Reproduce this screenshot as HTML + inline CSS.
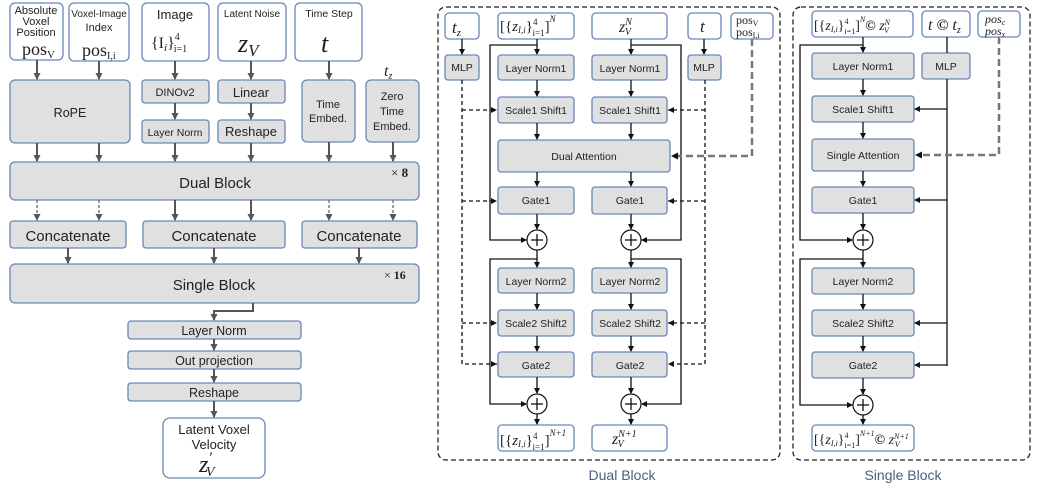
<!DOCTYPE html>
<html><head><meta charset="utf-8"><style>
html,body{margin:0;padding:0;background:#fff;}
svg{display:block;}
text{font-family:"Liberation Sans",sans-serif;fill:#222;}
.m{font-family:"Liberation Serif",serif;font-style:italic;}
.r{font-family:"Liberation Serif",serif;}
</style></head><body>
<svg width="1051" height="490" viewBox="0 0 1051 490" xmlns="http://www.w3.org/2000/svg">
<defs>
<marker id="ag" markerWidth="7" markerHeight="7" refX="6" refY="3.5" orient="auto" markerUnits="userSpaceOnUse"><path d="M0,0 L7,3.5 L0,7 z" fill="#555"/></marker>
<marker id="ab" markerWidth="6" markerHeight="6" refX="5" refY="3" orient="auto" markerUnits="userSpaceOnUse"><path d="M0,0 L6,3 L0,6 z" fill="#111"/></marker>
</defs>
<g stroke="#6a86b8" stroke-width="1.3">
<rect x="10" y="3" width="53" height="57" rx="5" fill="#fff"/>
<rect x="69" y="3" width="60" height="58" rx="5" fill="#fff"/>
<rect x="142" y="3" width="67" height="58" rx="5" fill="#fff"/>
<rect x="218" y="3" width="68" height="58" rx="5" fill="#fff"/>
<rect x="295" y="3" width="67" height="58" rx="5" fill="#fff"/>
<rect x="10" y="80" width="120" height="63" rx="5" fill="#e0e0e0"/>
<rect x="142" y="80" width="67" height="23" rx="3" fill="#e0e0e0"/>
<rect x="142" y="120" width="67" height="23" rx="3" fill="#e0e0e0"/>
<rect x="218" y="80" width="67" height="23" rx="3" fill="#e0e0e0"/>
<rect x="218" y="120" width="67" height="23" rx="3" fill="#e0e0e0"/>
<rect x="302" y="80" width="53" height="62" rx="5" fill="#e0e0e0"/>
<rect x="366" y="80" width="53" height="62" rx="5" fill="#e0e0e0"/>
<rect x="10" y="162" width="409" height="38" rx="5" fill="#e0e0e0"/>
<rect x="10" y="221" width="116" height="27" rx="3" fill="#e0e0e0"/>
<rect x="143" y="221" width="142" height="27" rx="3" fill="#e0e0e0"/>
<rect x="302" y="221" width="115" height="27" rx="3" fill="#e0e0e0"/>
<rect x="10" y="264" width="409" height="39" rx="5" fill="#e0e0e0"/>
<rect x="128" y="321" width="173" height="18" rx="3" fill="#e0e0e0"/>
<rect x="128" y="351" width="173" height="18" rx="3" fill="#e0e0e0"/>
<rect x="128" y="383" width="173" height="18" rx="3" fill="#e0e0e0"/>
<rect x="163" y="418" width="102" height="60" rx="7" fill="#fff"/>
</g>
<g stroke="#555" stroke-width="2" marker-end="url(#ag)" fill="none">
<line x1="37" y1="60" x2="37" y2="79"/><line x1="99" y1="61" x2="99" y2="79"/>
<line x1="175" y1="61" x2="175" y2="79"/><line x1="251" y1="61" x2="251" y2="79"/>
<line x1="329" y1="61" x2="329" y2="79"/>
<line x1="175" y1="103" x2="175" y2="119"/><line x1="251" y1="103" x2="251" y2="119"/>
<line x1="37" y1="143" x2="37" y2="161"/><line x1="99" y1="143" x2="99" y2="161"/>
<line x1="175" y1="143" x2="175" y2="161"/><line x1="251" y1="143" x2="251" y2="161"/>
<line x1="329" y1="142" x2="329" y2="161"/><line x1="393" y1="142" x2="393" y2="161"/>
<line x1="175" y1="200" x2="175" y2="220"/><line x1="251" y1="200" x2="251" y2="220"/>
<line x1="68" y1="248" x2="68" y2="263"/><line x1="214" y1="248" x2="214" y2="263"/><line x1="359" y1="248" x2="359" y2="263"/>
<polyline points="253,303 253,311 214,311 214,320"/>
<line x1="214" y1="339" x2="214" y2="350"/><line x1="214" y1="369" x2="214" y2="382"/><line x1="214" y1="401" x2="214" y2="417"/>
</g>
<g stroke="#666" stroke-width="1.3" stroke-dasharray="3,2" marker-end="url(#ag)">
<line x1="37" y1="200" x2="37" y2="220"/><line x1="99" y1="200" x2="99" y2="220"/>
<line x1="329" y1="200" x2="329" y2="220"/><line x1="393" y1="200" x2="393" y2="220"/>
</g>
<g font-size="11" text-anchor="middle">
<text x="36" y="14">Absolute</text><text x="36" y="25">Voxel</text><text x="36" y="36">Position</text>
<text x="99" y="17" font-size="10">Voxel-Image</text><text x="99" y="31">Index</text>
<text x="175" y="19" font-size="13">Image</text>
<text x="252" y="17" font-size="10">Latent Noise</text>
<text x="329" y="17" font-size="10.5">Time Step</text>
<text x="70" y="117" font-size="12.5">RoPE</text>
<text x="175" y="96" font-size="11">DINOv2</text>
<text x="175" y="136" font-size="10.5">Layer Norm</text>
<text x="251" y="97" font-size="13">Linear</text>
<text x="251" y="136" font-size="13">Reshape</text>
<text x="328" y="108" font-size="11">Time</text><text x="328" y="122" font-size="11">Embed.</text>
<text x="392" y="100" font-size="11">Zero</text><text x="392" y="115" font-size="11">Time</text><text x="392" y="130" font-size="11">Embed.</text>
<text x="215" y="188" font-size="15">Dual Block</text>
<text x="68" y="241" font-size="15">Concatenate</text>
<text x="214" y="241" font-size="15">Concatenate</text>
<text x="359" y="241" font-size="15">Concatenate</text>
<text x="214" y="290" font-size="15">Single Block</text>
<text x="214" y="335" font-size="12.5">Layer Norm</text>
<text x="214" y="365" font-size="12.5">Out projection</text>
<text x="214" y="397" font-size="12.5">Reshape</text>
<text x="214" y="434" font-size="13">Latent Voxel</text>
<text x="214" y="449" font-size="13">Velocity</text>
</g>
<text x="22" y="55" class="r" font-size="18">pos<tspan font-size="11" dy="3">V</tspan></text>
<text x="82" y="56" class="r" font-size="18">pos<tspan font-size="10" dy="3">I,i</tspan></text>
<text x="151" y="48" class="r" font-size="16">{I<tspan class="m" font-size="11" dy="3">i</tspan><tspan dy="-3">}</tspan><tspan font-size="10" dy="-8">4</tspan><tspan font-size="10" dx="-6" dy="12">i=1</tspan></text>
<text x="238" y="52" class="m" font-size="26">z<tspan font-size="17" dy="4">V</tspan></text>
<text x="321" y="52" class="m" font-size="26">t</text>
<text x="384" y="76" class="m" font-size="16">t<tspan font-size="10" dy="3">z</tspan></text>
<text x="391" y="177" font-size="13" class="r">× <tspan font-weight="bold">8</tspan></text>
<text x="384" y="279" font-size="12" class="r">× <tspan font-weight="bold">16</tspan></text>
<text x="199" y="472" class="m" font-size="24">z<tspan font-size="16" dy="-9">′</tspan><tspan font-size="14" dx="-6" dy="13">V</tspan></text>

<rect x="438" y="7" width="342" height="453" rx="8" fill="none" stroke="#222" stroke-width="1.3" stroke-dasharray="5,3"/>
<rect x="793" y="7" width="237" height="453" rx="8" fill="none" stroke="#222" stroke-width="1.3" stroke-dasharray="5,3"/>
<g stroke="#6a86b8" stroke-width="1.3">
<rect x="445" y="13" width="34" height="26" rx="4" fill="#fff"/>
<rect x="498" y="13" width="76" height="26" rx="4" fill="#fff"/>
<rect x="592" y="13" width="75" height="26" rx="4" fill="#fff"/>
<rect x="688" y="13" width="33" height="26" rx="4" fill="#fff"/>
<rect x="731" y="13" width="42" height="26" rx="4" fill="#fff"/>
<rect x="445" y="55" width="34" height="25" rx="3" fill="#e0e0e0"/>
<rect x="688" y="55" width="33" height="25" rx="3" fill="#e0e0e0"/>
<rect x="498" y="55" width="76" height="25" rx="3" fill="#e0e0e0"/>
<rect x="592" y="55" width="75" height="25" rx="3" fill="#e0e0e0"/>
<rect x="498" y="97" width="76" height="26" rx="3" fill="#e0e0e0"/>
<rect x="592" y="97" width="75" height="26" rx="3" fill="#e0e0e0"/>
<rect x="498" y="140" width="172" height="32" rx="3" fill="#e0e0e0"/>
<rect x="498" y="187" width="76" height="27" rx="3" fill="#e0e0e0"/>
<rect x="592" y="187" width="75" height="27" rx="3" fill="#e0e0e0"/>
<rect x="498" y="268" width="76" height="25" rx="3" fill="#e0e0e0"/>
<rect x="592" y="268" width="75" height="25" rx="3" fill="#e0e0e0"/>
<rect x="498" y="310" width="76" height="26" rx="3" fill="#e0e0e0"/>
<rect x="592" y="310" width="75" height="26" rx="3" fill="#e0e0e0"/>
<rect x="498" y="352" width="76" height="25" rx="3" fill="#e0e0e0"/>
<rect x="592" y="352" width="75" height="25" rx="3" fill="#e0e0e0"/>
<rect x="498" y="425" width="76" height="26" rx="4" fill="#fff"/>
<rect x="592" y="425" width="75" height="26" rx="4" fill="#fff"/>
<rect x="812" y="11" width="101" height="26" rx="4" fill="#fff"/>
<rect x="922" y="11" width="48" height="26" rx="4" fill="#fff"/>
<rect x="978" y="11" width="42" height="26" rx="4" fill="#fff"/>
<rect x="812" y="53" width="102" height="26" rx="3" fill="#e0e0e0"/>
<rect x="922" y="53" width="48" height="26" rx="3" fill="#e0e0e0"/>
<rect x="812" y="96" width="102" height="26" rx="3" fill="#e0e0e0"/>
<rect x="812" y="139" width="102" height="32" rx="3" fill="#e0e0e0"/>
<rect x="812" y="187" width="102" height="26" rx="3" fill="#e0e0e0"/>
<rect x="812" y="268" width="102" height="26" rx="3" fill="#e0e0e0"/>
<rect x="812" y="310" width="102" height="26" rx="3" fill="#e0e0e0"/>
<rect x="812" y="352" width="102" height="26" rx="3" fill="#e0e0e0"/>
<rect x="812" y="425" width="102" height="26" rx="4" fill="#fff"/>
</g>
<g stroke="#111" stroke-width="1.2" fill="#fff">
<circle cx="537" cy="240" r="10"/><circle cx="631" cy="240" r="10"/>
<circle cx="537" cy="404" r="10"/><circle cx="631" cy="404" r="10"/>
<circle cx="863" cy="240" r="10"/><circle cx="863" cy="405" r="10"/>
</g>
<g stroke="#111" stroke-width="1.3">
<line x1="531" y1="240" x2="543" y2="240"/><line x1="537" y1="234" x2="537" y2="246"/>
<line x1="625" y1="240" x2="637" y2="240"/><line x1="631" y1="234" x2="631" y2="246"/>
<line x1="531" y1="404" x2="543" y2="404"/><line x1="537" y1="398" x2="537" y2="410"/>
<line x1="625" y1="404" x2="637" y2="404"/><line x1="631" y1="398" x2="631" y2="410"/>
<line x1="857" y1="240" x2="869" y2="240"/><line x1="863" y1="234" x2="863" y2="246"/>
<line x1="857" y1="405" x2="869" y2="405"/><line x1="863" y1="399" x2="863" y2="411"/>
</g>
<g stroke="#111" stroke-width="1.3" fill="none" marker-end="url(#ab)">
<line x1="462" y1="39" x2="462" y2="54"/><line x1="704" y1="39" x2="704" y2="54"/>
<line x1="537" y1="39" x2="537" y2="54"/><line x1="631" y1="39" x2="631" y2="54"/>
<line x1="537" y1="80" x2="537" y2="96"/><line x1="631" y1="80" x2="631" y2="96"/>
<line x1="537" y1="123" x2="537" y2="139"/><line x1="631" y1="123" x2="631" y2="139"/>
<line x1="537" y1="172" x2="537" y2="186"/><line x1="631" y1="172" x2="631" y2="186"/>
<line x1="537" y1="214" x2="537" y2="229"/><line x1="631" y1="214" x2="631" y2="229"/>
<polyline points="537,45 490,45 490,240 526,240"/>
<polyline points="631,45 681,45 681,240 642,240"/>
<line x1="537" y1="250" x2="537" y2="267"/><line x1="631" y1="250" x2="631" y2="267"/>
<polyline points="537,259 490,259 490,404 526,404"/>
<polyline points="631,259 681,259 681,404 642,404"/>
<line x1="537" y1="293" x2="537" y2="309"/><line x1="631" y1="293" x2="631" y2="309"/>
<line x1="537" y1="336" x2="537" y2="351"/><line x1="631" y1="336" x2="631" y2="351"/>
<line x1="537" y1="377" x2="537" y2="393"/><line x1="631" y1="377" x2="631" y2="393"/>
<line x1="537" y1="414" x2="537" y2="424"/><line x1="631" y1="414" x2="631" y2="424"/>
<line x1="863" y1="37" x2="863" y2="52"/>
<line x1="863" y1="79" x2="863" y2="95"/><line x1="863" y1="122" x2="863" y2="138"/>
<line x1="863" y1="171" x2="863" y2="186"/><line x1="863" y1="213" x2="863" y2="229"/>
<polyline points="863,45 800,45 800,240 852,240"/>
<line x1="863" y1="250" x2="863" y2="267"/>
<polyline points="863,259 800,259 800,405 852,405"/>
<line x1="863" y1="294" x2="863" y2="309"/><line x1="863" y1="336" x2="863" y2="351"/>
<line x1="863" y1="378" x2="863" y2="394"/><line x1="863" y1="415" x2="863" y2="424"/>
<line x1="947" y1="109" x2="915" y2="109"/><line x1="947" y1="200" x2="915" y2="200"/>
<line x1="947" y1="323" x2="915" y2="323"/><line x1="947" y1="365" x2="915" y2="365"/>
</g>
<g stroke="#111" stroke-width="1.3">
<line x1="947" y1="37" x2="947" y2="53"/><line x1="947" y1="79" x2="947" y2="366"/>
</g>
<g stroke="#111" stroke-width="1.3" fill="none" stroke-dasharray="4,3">
<polyline points="462,80 462,364 497,364"/>
<line x1="462" y1="110" x2="497" y2="110"/><line x1="462" y1="201" x2="497" y2="201"/><line x1="462" y1="323" x2="497" y2="323"/>
<polyline points="705,80 705,364 668,364"/>
<line x1="705" y1="110" x2="668" y2="110"/><line x1="705" y1="201" x2="668" y2="201"/><line x1="705" y1="323" x2="668" y2="323"/>
</g>
<g fill="#111">
<path d="M497,110 l-6,-3 v6z"/><path d="M497,201 l-6,-3 v6z"/><path d="M497,323 l-6,-3 v6z"/><path d="M497,364 l-6,-3 v6z"/>
<path d="M668,110 l6,-3 v6z"/><path d="M668,201 l6,-3 v6z"/><path d="M668,323 l6,-3 v6z"/><path d="M668,364 l6,-3 v6z"/>
<path d="M671,156 l7,-3.5 v7z"/><path d="M915,155 l7,-3.5 v7z"/>
</g>
<g stroke="#777" stroke-width="2.5" fill="none" stroke-dasharray="7,4">
<polyline points="752,39 752,156 678,156"/>
<polyline points="999,37 999,155 922,155"/>
</g>
<g font-size="10.5" text-anchor="middle" xml:space="preserve">
<text x="462" y="71">MLP</text><text x="704" y="71">MLP</text>
<text x="536" y="72">Layer Norm1</text><text x="630" y="72">Layer Norm1</text>
<text x="536" y="114">Scale1  Shift1</text><text x="630" y="114">Scale1  Shift1</text>
<text x="584" y="160">Dual Attention</text>
<text x="536" y="204">Gate1</text><text x="630" y="204">Gate1</text>
<text x="536" y="285">Layer Norm2</text><text x="630" y="285">Layer Norm2</text>
<text x="536" y="327">Scale2  Shift2</text><text x="630" y="327">Scale2  Shift2</text>
<text x="536" y="369">Gate2</text><text x="630" y="369">Gate2</text>
<text x="863" y="70">Layer Norm1</text><text x="946" y="70">MLP</text>
<text x="863" y="113">Scale1  Shift1</text>
<text x="863" y="159">Single Attention</text>
<text x="863" y="204">Gate1</text>
<text x="863" y="285">Layer Norm2</text>
<text x="863" y="327">Scale2  Shift2</text>
<text x="863" y="369">Gate2</text>
<text x="622" y="480" font-size="14" style="fill:#4a5f80">Dual Block</text>
<text x="903" y="480" font-size="14" style="fill:#4a5f80">Single Block</text>
</g>
<text x="452" y="33" class="m" font-size="17">t<tspan font-size="11" dy="3">z</tspan></text>
<text x="500" y="31" class="r" font-size="15">[{<tspan class="m">z<tspan font-size="9" dy="2">I,i</tspan></tspan><tspan dy="-2">}</tspan><tspan font-size="9" dy="-6">4</tspan><tspan font-size="9" dx="-5" dy="11">i=1</tspan><tspan dy="-5">]</tspan><tspan font-size="9" class="m" dy="-9">N</tspan></text>
<text x="619" y="32" class="m" font-size="16">z<tspan font-size="10" dy="-7">N</tspan><tspan font-size="10" dx="-7" dy="10">V</tspan></text>
<text x="700" y="32" class="m" font-size="17">t</text>
<text x="736" y="24" class="r" font-size="12">pos<tspan font-size="8" dy="2">V</tspan></text>
<text x="736" y="36" class="r" font-size="12">pos<tspan font-size="8" dy="2">I,i</tspan></text>
<text x="500" y="445" class="r" font-size="15">[{<tspan class="m">z<tspan font-size="9" dy="2">I,i</tspan></tspan><tspan dy="-2">}</tspan><tspan font-size="9" dy="-6">4</tspan><tspan font-size="9" dx="-5" dy="11">i=1</tspan><tspan dy="-5">]</tspan><tspan font-size="9" class="m" dy="-9">N+1</tspan></text>
<text x="612" y="444" class="m" font-size="16">z<tspan font-size="10" dy="-7">N+1</tspan><tspan font-size="10" dx="-19" dy="10">V</tspan></text>
<text x="814" y="30" class="r" font-size="14">[{<tspan class="m">z<tspan font-size="8" dy="2">I,i</tspan></tspan><tspan dy="-2">}</tspan><tspan font-size="8" dy="-6">4</tspan><tspan font-size="8" dx="-4" dy="10">i=1</tspan><tspan dy="-4">]</tspan><tspan font-size="8" class="m" dy="-8">N</tspan><tspan font-size="14" font-weight="bold" dy="8">©</tspan><tspan class="m"> z<tspan font-size="8" dy="-5">N</tspan><tspan font-size="8" dx="-6" dy="8">V</tspan></tspan></text>
<text x="928" y="30" class="m" font-size="16">t <tspan font-style="normal" font-weight="bold">©</tspan> t<tspan font-size="10" dy="3">z</tspan></text>
<text x="985" y="23" class="m" font-size="12">pos<tspan font-size="8" dy="2">c</tspan></text>
<text x="985" y="35" class="m" font-size="12">pos<tspan font-size="8" dy="2">x</tspan></text>
<text x="814" y="444" class="r" font-size="14">[{<tspan class="m">z<tspan font-size="8" dy="2">I,i</tspan></tspan><tspan dy="-2">}</tspan><tspan font-size="8" dy="-6">4</tspan><tspan font-size="8" dx="-4" dy="10">i=1</tspan><tspan dy="-4">]</tspan><tspan font-size="8" class="m" dy="-8">N+1</tspan><tspan font-size="14" font-weight="bold" dy="8">©</tspan><tspan class="m"> z<tspan font-size="8" dy="-5">N+1</tspan><tspan font-size="8" dx="-14" dy="8">V</tspan></tspan></text>
</svg>
</body></html>
